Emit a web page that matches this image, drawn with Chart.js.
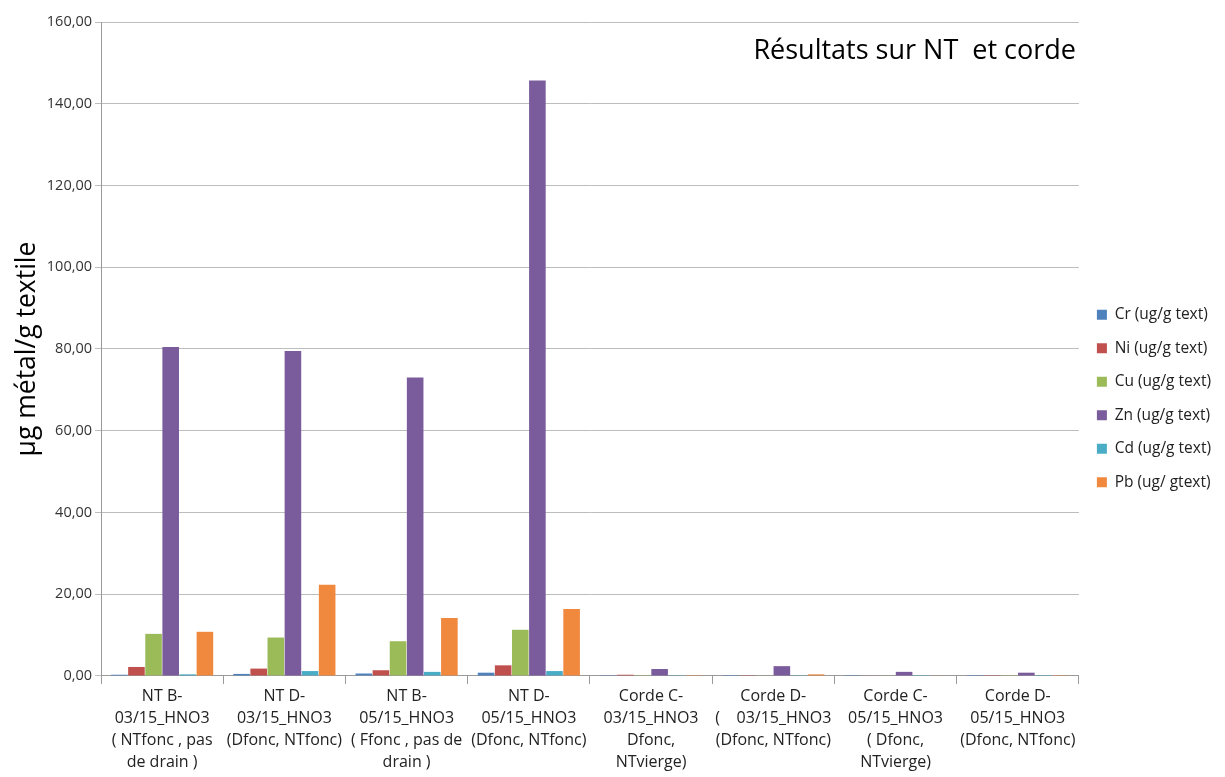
<!DOCTYPE html>
<html>
<head>
<meta charset="utf-8">
<script src="https://cdn.jsdelivr.net/npm/chart.js@4"></script>
<style>
  html, body { margin: 0; padding: 0; background: #fff; }
  #wrap { width: 1225px; height: 777px; }
</style>
</head>
<body>
<div id="wrap"><canvas id="chart"></canvas></div>
<script>
// ─── DATA ─────────────────────────────────────────────────
const categories = [
    ['NT B-', '03/15_HNO3', '( NTfonc , pas', 'de drain )'],
    ['NT D-', '03/15_HNO3', '(Dfonc, NTfonc)'],
    ['NT B-', '05/15_HNO3', '( Ffonc , pas de', 'drain )'],
    ['NT D-', '05/15_HNO3', '(Dfonc, NTfonc)'],
    ['Corde C-', '03/15_HNO3', 'Dfonc,', 'NTvierge)'],
    ['Corde D-', '(    03/15_HNO3', '(Dfonc, NTfonc)'],
    ['Corde C-', '05/15_HNO3', '( Dfonc,', 'NTvierge)'],
    ['Corde D-', '05/15_HNO3', '(Dfonc, NTfonc)']
];
const seriesNames = ['Cr (ug/g text)', 'Ni (ug/g text)', 'Cu (ug/g text)', 'Zn (ug/g text)', 'Cd (ug/g text)', 'Pb (ug/ gtext)'];
const cr = [0.3, 0.5, 0.6, 0.8, 0.05, 0.02, 0.03, 0.02];
const ni = [2.2, 1.8, 1.4, 2.6, 0.3, 0.05, 0.1, 0.05];
const cu = [10.3, 9.4, 8.5, 11.3, 0.05, 0.1, 0.1, 0.05];
const zn = [80.5, 79.5, 73.0, 145.7, 1.7, 2.4, 1.0, 0.8];
const cd = [0.4, 1.2, 1.0, 1.2, 0.05, 0.05, 0.03, 0.02];
const pb = [10.8, 22.3, 14.2, 16.4, 0.2, 0.4, 0.1, 0.05];
const yTicks = [0, 20, 40, 60, 80, 100, 120, 140, 160];

const colors = ['#4F81BD', '#C0504D', '#9BBB59', '#7A5C9C', '#4BACC6', '#F0883E'];
const FONT = 'Open Sans';

// ─── TITLE INSIDE PLOT ────────────────────────────────────
const innerTitle = {
    id: 'innerTitle',
    afterDraw(chart) {
        const c = chart.ctx;
        c.save();
        c.font = `27px "${FONT}"`;
        c.fillStyle = '#000';
        c.textAlign = 'right';
        c.textBaseline = 'middle';
        c.fillText('Résultats sur NT  et corde', 1076, 51);
        c.restore();
    }
};

new Chart(document.getElementById('chart'), {
    type: 'bar',
    data: {
        labels: categories,
        datasets: [cr, ni, cu, zn, cd, pb].map((d, i) => ({
            label: seriesNames[i],
            data: d,
            backgroundColor: colors[i],
            borderWidth: 0,
            barPercentage: 0.97,
            categoryPercentage: 0.84
        }))
    },
    options: {
        responsive: true,
        maintainAspectRatio: false,
        animation: false,
        layout: { padding: { top: 22, right: 4, left: 12, bottom: 2 } },
        plugins: {
            legend: {
                position: 'right',
                labels: {
                    font: { family: FONT, size: 15.5 },
                    color: '#222',
                    boxWidth: 10,
                    boxHeight: 10,
                    padding: 18
                }
            },
            tooltip: { enabled: false }
        },
        scales: {
            x: {
                grid: {
                    display: true,
                    drawOnChartArea: false,
                    offset: true,
                    color: '#9a9a9a',
                    tickLength: 8
                },
                border: { color: '#9a9a9a' },
                ticks: {
                    font: { family: FONT, size: 16, lineHeight: 1.36 },
                    color: '#222',
                    padding: 2,
                    maxRotation: 0,
                    autoSkip: false
                }
            },
            y: {
                min: 0, max: 160,
                afterBuildTicks: axis => { axis.ticks = yTicks.map(v => ({ value: v })); },
                grid: { color: '#bdbdbd', tickLength: 6 },
                border: { color: '#9a9a9a' },
                ticks: {
                    font: { family: FONT, size: 14.5 },
                    color: '#333',
                    callback: v => v.toFixed(2).replace('.', ',')
                },
                title: {
                    display: true,
                    text: 'µg métal/g textile',
                    font: { family: FONT, size: 26.5 },
                    color: '#000',
                    padding: { top: 0, bottom: 0 }
                }
            }
        }
    },
    plugins: [innerTitle]
});
</script>
</body>
</html>
